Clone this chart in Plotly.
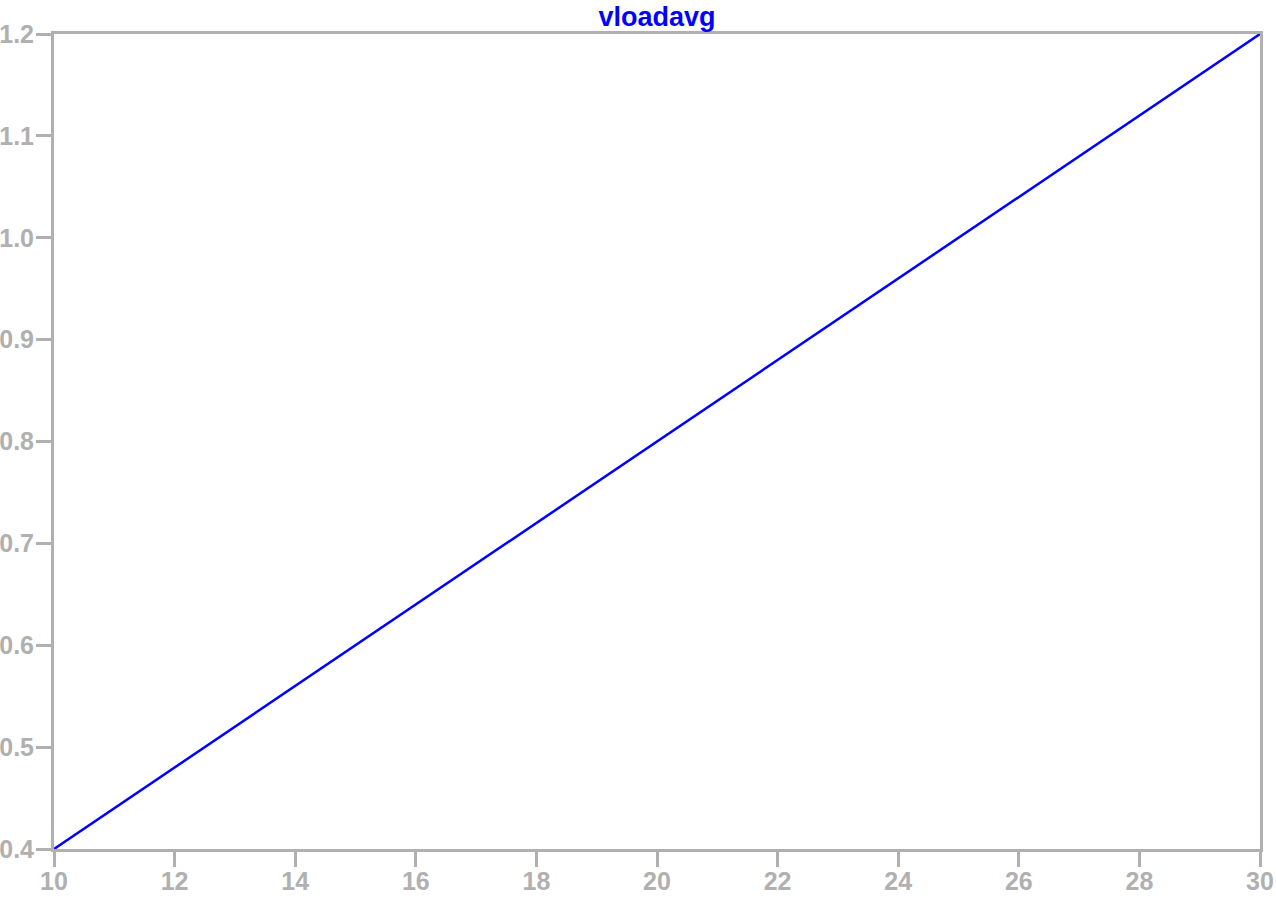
import plotly.graph_objs as go

# sweep values
x_vals = [10, 12, 14, 16, 18, 20, 22, 24, 26, 28, 30]
y_vals = [0.40, 0.48, 0.56, 0.64, 0.72, 0.80, 0.88, 0.96, 1.04, 1.12, 1.20]
x_ticks = [10, 12, 14, 16, 18, 20, 22, 24, 26, 28, 30]
y_ticks = [0.4, 0.5, 0.6, 0.7, 0.8, 0.9, 1.0, 1.1, 1.2]

grey = '#b0b0b0'
font_name = 'Liberation Sans, Arial, sans-serif'

trace = go.Scatter(
    x=x_vals,
    y=y_vals,
    mode='lines',
    name='vloadavg',
    line=dict(color='#0000ff', width=2.5),
)

axis_style = dict(
    showgrid=False,
    zeroline=False,
    showline=True,
    linecolor=grey,
    linewidth=3,
    mirror=True,
    ticks='outside',
    ticklen=15,
    tickwidth=3,
    tickcolor=grey,
    automargin=False,
    tickfont=dict(family=font_name, size=25, color=grey, weight='bold'),
)

layout = go.Layout(
    width=1276,
    height=899,
    margin=dict(l=54, r=16, t=34, b=50),
    plot_bgcolor='white',
    paper_bgcolor='white',
    showlegend=False,
    title=dict(
        text='<b>vloadavg</b>',
        font=dict(family=font_name, size=27, color='#0000ff'),
        x=0.5,
        xref='paper',
        xanchor='center',
        y=1 - 17 / 899,
        yref='container',
        yanchor='middle',
    ),
    xaxis=dict(range=[10, 30], tickvals=x_ticks, ticktext=[str(v) for v in x_ticks],
               ticklabelstandoff=-7, **axis_style),
    yaxis=dict(range=[0.4, 1.2], tickvals=y_ticks, ticktext=['%.1f' % v for v in y_ticks],
               ticklabelstandoff=-3, **axis_style),
)

fig = go.Figure(data=[trace], layout=layout)
# drop the default page margin so the figure sits at the window's corner
fig.write_html('out.html', config={'displayModeBar': False},
               post_script="document.body.style.margin='0';document.body.style.overflow='hidden';")
